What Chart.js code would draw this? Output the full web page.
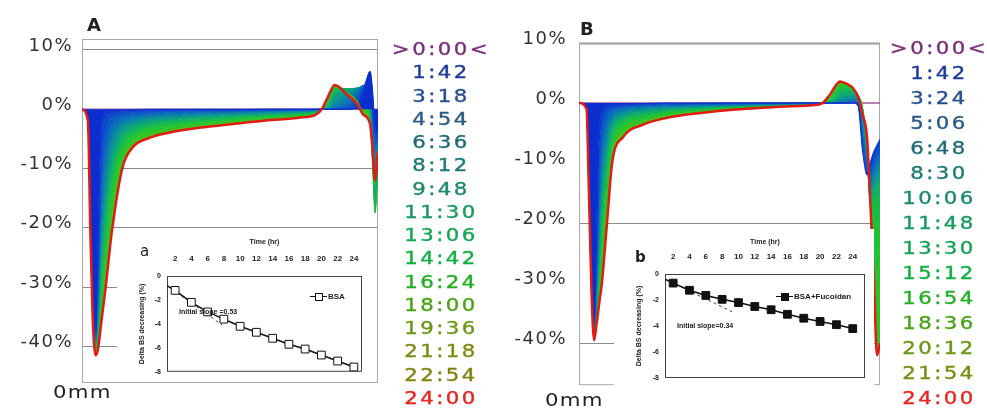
<!DOCTYPE html>
<html>
<head>
<meta charset="utf-8">
<title>Delta BS profiles</title>
<script src="https://cdn.jsdelivr.net/npm/chart.js@4.4.1/dist/chart.umd.min.js"></script>
<style>
  body { margin: 0; background: #fff; }
  #page { position: relative; width: 987px; height: 408px; overflow: hidden; font-family: "DejaVu Sans", sans-serif; }
  #page canvas { position: absolute; }
  .inset { background: #fff; }
  .time { position: absolute; width: 140px; text-align: center; font-size: 17px; line-height: 20px; letter-spacing: 2px; transform: scaleX(1.25); white-space: nowrap; -webkit-text-stroke: 0.35px currentColor; }
  .txt { position: absolute; white-space: nowrap; color: #222; }
  .small { position: absolute; white-space: nowrap; font-family: "Liberation Sans", Arial, sans-serif; font-weight: bold; font-size: 7px; color: #222; }
  .mk { display: inline-block; position: relative; width: 17px; height: 8px; vertical-align: middle; margin-right: 1px; }
  .mk:before { content: ''; position: absolute; left: 0; right: 0; top: 3.5px; border-top: 1px solid #111; }
  .mk i { position: absolute; left: 5px; top: 0; width: 6px; height: 6px; border: 1px solid #111; background: #fff; }
  .mk.fill i { background: #111; }
</style>
</head>
<body>
<div id="page">
  <canvas id="mainA" width="490" height="408" style="left:0;top:0"></canvas>
  <canvas id="mainB" width="497" height="408" style="left:490px;top:0"></canvas>
  <canvas id="insetA" class="inset" width="260" height="153" style="left:117px;top:229px"></canvas>
  <canvas id="insetB" class="inset" width="260" height="161" style="left:614px;top:229px"></canvas>

  <div class="txt" style="left:87px;top:14px;font-size:18px;font-weight:bold">A</div>
  <div class="txt" style="left:580px;top:18px;font-size:18px;font-weight:bold">B</div>
  <div class="txt" style="left:53px;top:382px;font-size:17px;letter-spacing:1px;transform:scaleX(1.25);transform-origin:left">0mm</div>
  <div class="txt" style="left:545px;top:390px;font-size:17px;letter-spacing:1px;transform:scaleX(1.25);transform-origin:left">0mm</div>

  <div class="txt" style="left:140px;top:242px;font-size:15px">a</div>
  <div class="txt" style="left:635px;top:248px;font-size:15px;font-weight:bold">b</div>
  <div class="small" style="left:179px;top:308px">Initial slope =0.53</div>
  <div class="small" style="left:677px;top:322px">Initial slope=0.34</div>
  <div class="small" style="left:310px;top:292px;font-size:8px"><span class="mk"><i></i></span>BSA</div>
  <div class="small" style="left:776px;top:292px;font-size:8px"><span class="mk fill"><i></i></span>BSA+Fucoidan</div>
</div>
<script>
// panel A: position along the strip (0..100) and Delta BS (%) for each scan time
const posA = [0, 2, 2.8, 3.6, 4.6, 5.4, 6.5, 8, 10, 13.6, 17, 23, 29, 40, 51, 62, 74, 79, 81, 83, 85.4, 89.5, 93, 95, 97.3, 98.2, 99, 100];
const timesA = ['>0:00<', '1:42', '3:18', '4:54', '6:36', '8:12', '9:48', '11:30', '13:06', '14:42', '16:24', '18:00', '19:36', '21:18', '22:54', '24:00'];
const curvesA = [
  [0, 0, 0, 0, 0, 0, 0, 0, 0, 0, 0, 0, 0, 0, 0, 0, 0, 0, 0, 0, 0, 0, 0, 0, 0, 0, 0, 0],
  [0, -2, -18, -33, -37, -22, -3, -0.6, -0.3, -0.2, -0.1, 0, 0, 0, 0, 0, 0, 0, 0, 0, 0, 0, 0.3, 2.5, 6.4, 3, -3, -4],
  [0, -2, -18, -33, -37.5, -25, -7, -1.5, -0.7, -0.4, -0.3, -0.2, -0.1, -0.1, -0.1, 0, 0, 0, 0, 0, 0, 0, 0.8, 3, 6.2, 2, -4, -4.5],
  [0, -2, -18, -33.5, -38, -27.5, -11, -3.5, -1.5, -0.8, -0.6, -0.4, -0.3, -0.2, -0.2, -0.1, -0.1, 0, 0, 0, 0, 0.2, 1.5, 3.5, 5.8, 0.5, -5, -5],
  [0, -2, -18.5, -33.5, -38.3, -29.5, -14.5, -6, -2.7, -1.3, -1, -0.7, -0.5, -0.4, -0.3, -0.2, -0.1, -0.1, 0, 0, 0, 0.6, 2.3, 3.8, 5.2, -1, -6, -5.5],
  [0, -2, -18.5, -33.5, -38.6, -31, -17.5, -8.5, -4, -2, -1.4, -1, -0.8, -0.6, -0.5, -0.3, -0.2, -0.1, 0, 0, 0.3, 1.2, 3, 4, 4.6, -2.5, -7, -6],
  [0, -2, -18.5, -34, -39, -32.5, -20, -11, -5.5, -2.7, -1.9, -1.3, -1.1, -0.8, -0.6, -0.4, -0.3, -0.2, 0, 0, 0.8, 2, 3.4, 4, 3.8, -4, -8, -6.5],
  [0, -2, -19, -34, -39.3, -34, -22.5, -13.5, -7, -3.4, -2.4, -1.7, -1.4, -1, -0.8, -0.6, -0.4, -0.3, 0, 0, 1.5, 2.6, 3.6, 3.8, 3, -5.5, -10, -7],
  [0, -2, -19, -34, -39.6, -35, -24.5, -16, -8.5, -4.1, -2.9, -2, -1.7, -1.3, -1, -0.7, -0.5, -0.3, 0, 0.2, 2.2, 3.1, 3.6, 3.4, 2, -7, -12, -8],
  [0, -2, -19, -34, -40, -36, -26.5, -18, -10, -4.9, -3.4, -2.4, -2, -1.5, -1.2, -0.9, -0.6, -0.4, 0, 0.4, 2.8, 3.4, 3.5, 2.8, 1, -8, -14, -9],
  [0, -2, -19, -34.5, -40.3, -37, -28.5, -20, -11.5, -5.6, -3.9, -2.8, -2.3, -1.8, -1.4, -1, -0.7, -0.5, 0, 0.7, 3.2, 3.5, 3.3, 2.2, 0, -9, -16, -10],
  [0, -2, -19.5, -34.5, -40.6, -38, -30.5, -22, -13, -6.4, -4.4, -3.1, -2.6, -2, -1.6, -1.2, -0.8, -0.6, 0, 1, 3.5, 3.5, 3, 1.5, -1, -10, -17.5, -11],
  [0, -2, -19.5, -34.5, -40.9, -38.8, -32, -24, -14.8, -7.2, -4.9, -3.5, -2.9, -2.3, -1.8, -1.4, -1, -0.6, 0, 1.3, 3.6, 3.4, 2.6, 0.8, -1.8, -9, -17, -10],
  [0, -2, -19.5, -35, -41.1, -39.5, -33.5, -26, -16.6, -8, -5.4, -3.9, -3.2, -2.5, -2, -1.5, -1.1, -0.7, 0, 1.6, 3.7, 3.2, 2.1, 0.2, -2.2, -8.5, -15, -9],
  [0, -2, -20, -35, -41.3, -40, -35, -28, -18.8, -9, -6, -4.3, -3.6, -2.8, -2.3, -1.7, -1.2, -0.8, 0, 1.8, 3.9, 2.9, 1.5, -0.4, -2.4, -8, -13, -8],
  [0, -2, -20, -35, -41.5, -40.5, -36, -30, -21, -10, -6.5, -4.8, -4, -3.1, -2.5, -1.9, -1.4, -0.9, 0, 2, 4.1, 2.5, 0.8, -0.9, -2.5, -7, -12, -7]
];

// panel B
const posB = [0, 2.5, 3.3, 4.2, 5, 5.8, 6.8, 7.6, 9.3, 11, 14.6, 21.3, 28, 34.6, 51, 67, 79, 81, 83.5, 86.7, 89, 91, 92.7, 94.2, 95.7, 96.7, 98, 99, 100];
const timesB = ['>0:00<', '1:42', '3:24', '5:06', '6:48', '8:30', '10:06', '11:48', '13:30', '15:12', '16:54', '18:36', '20:12', '21:54', '24:00'];
const curvesB = [
  [0, 0, 0, 0, 0, 0, 0, 0, 0, 0, 0, 0, 0, 0, 0, 0, 0, 0, 0, 0, 0, 0, 0, 0, 0, 0, 0, 0, 0],
  [0, -1, -14, -30, -36, -22, -4, -1.5, -0.5, -0.3, -0.2, -0.1, 0, 0, 0, 0, 0, 0, 0, 0, 0, 0, -0.5, -8, -12, -10, -8, -7, -6],
  [0, -1, -14, -30, -36.5, -25, -8, -3.5, -1.2, -0.7, -0.4, -0.2, -0.1, -0.1, 0, 0, 0, 0, 0, 0, 0, 0, -0.3, -7, -11.5, -11, -9, -8, -7],
  [0, -1, -14, -30.5, -36.8, -27.5, -12, -6, -2.2, -1.2, -0.7, -0.4, -0.3, -0.2, -0.1, 0, 0, 0, 0, 0, 0, 0.1, -0.1, -6, -11, -12, -10, -9, -8],
  [0, -1, -14.5, -30.5, -37, -29.5, -15, -8.5, -3.4, -1.8, -1, -0.6, -0.4, -0.3, -0.2, -0.1, 0, 0, 0, 0, 0.2, 0.3, 0.1, -5, -10.5, -13, -11, -10, -9],
  [0, -1, -14.5, -30.5, -37.3, -31, -18, -11, -4.8, -2.5, -1.4, -0.8, -0.6, -0.5, -0.3, -0.1, 0, 0, 0, 0.2, 0.5, 0.6, 0.3, -4, -10, -14, -12, -11, -10],
  [0, -1, -14.5, -31, -37.6, -32, -20.5, -13.5, -6.2, -3.2, -1.8, -1.1, -0.8, -0.6, -0.4, -0.2, -0.1, 0, 0, 0.5, 0.9, 1, 0.6, -3, -9.5, -15, -13, -12, -11],
  [0, -1, -14.5, -31, -37.9, -33, -22.5, -15.5, -7.6, -3.9, -2.2, -1.4, -1, -0.8, -0.5, -0.2, -0.1, 0, 0.1, 0.9, 1.3, 1.4, 0.9, -2, -9, -16, -14, -13, -12],
  [0, -1, -14.5, -31, -38.2, -34, -24.5, -17.5, -9, -4.7, -2.6, -1.7, -1.2, -0.9, -0.5, -0.3, -0.1, 0, 0.2, 1.4, 1.8, 1.7, 1.1, -1.3, -8.5, -16, -15, -14, -13],
  [0, -1, -15, -31, -38.5, -34.8, -26.3, -19.5, -10.6, -5.5, -3, -2, -1.4, -1.1, -0.6, -0.3, -0.1, 0, 0.4, 1.9, 2.2, 2, 1.3, -1, -8, -16, -17, -16, -15],
  [0, -1, -15, -31.5, -38.7, -35.5, -28, -21.5, -12.2, -6.3, -3.5, -2.3, -1.6, -1.3, -0.7, -0.4, -0.2, 0, 0.6, 2.4, 2.6, 2.2, 1.4, -0.8, -7.5, -16, -19, -20, -18],
  [0, -1, -15, -31.5, -38.9, -36, -29.5, -23.5, -14, -7.1, -4, -2.6, -1.8, -1.4, -0.8, -0.4, -0.2, 0, 0.8, 2.8, 2.9, 2.4, 1.4, -0.8, -7, -16, -21, -30, -20],
  [0, -1, -15, -31.5, -39.1, -36.4, -30.8, -25.5, -15.8, -8, -4.5, -2.9, -2.1, -1.6, -0.9, -0.5, -0.2, 0, 1, 3.1, 3.1, 2.5, 1.3, -1, -6.5, -16, -24, -40, -38],
  [0, -1, -15, -32, -39.3, -36.7, -32, -27.8, -17.8, -9, -5.1, -3.2, -2.3, -1.8, -1, -0.5, -0.3, 0, 1.2, 3.4, 3.2, 2.5, 1.2, -1.4, -6, -16, -27, -42, -40],
  [0, -1, -15, -32, -39.5, -37, -33, -30, -20, -10, -5.7, -3.6, -2.6, -2, -1.1, -0.6, -0.3, 0, 1.5, 3.6, 3.2, 2.5, 1, -2, -5.7, -15.6, -30, -42, -40]
];
const yTicksMain = [10, 0, -10, -20, -30, -40];

// insets: Delta BS decreasing (%) against time (hr)
const hourTicks = [2, 4, 6, 8, 10, 12, 14, 16, 18, 20, 22, 24];
const insetYTicks = [0, -2, -4, -6, -8];
const insetHours = [1, 2, 4, 6, 8, 10, 12, 14, 16, 18, 20, 22, 24];
const bsa = [-0.8, -1.2, -2.2, -3.0, -3.6, -4.2, -4.7, -5.2, -5.7, -6.1, -6.6, -7.1, -7.6];
const bsaFucoidan = [-0.4, -0.7, -1.25, -1.65, -1.95, -2.2, -2.5, -2.75, -3.1, -3.4, -3.65, -3.9, -4.2];
const slopeHoursA = [1, 7.8], slopeValsA = [-0.8, -4.1];
const slopeHoursB = [1, 9.2], slopeValsB = [-0.4, -2.9];

// colours
const labelColorsA = ['#7b2d7b', '#1f3c9c', '#27508e', '#2a5a85', '#1e6b78', '#1d7a74', '#1b8a6c', '#169a5e', '#13a552', '#10b040', '#22b022', '#4aa216', '#6a9614', '#7c8c12', '#808412', '#e8231e'];
const labelColorsB = ['#7b2d7b', '#1f3c9c', '#27508e', '#2a5a85', '#1e6b78', '#1d7a74', '#1b8a6c', '#169a5e', '#13a552', '#10b040', '#22b022', '#4aa216', '#6a9614', '#7c8c12', '#e8231e'];
const lineColorsA = ['#a0569a', '#0d2ecf', '#0c3bd0', '#0b4bcc', '#0a5cc4', '#096eb8', '#087fa8', '#088f96', '#099e82', '#0caa6c', '#10b556', '#16bd42', '#1ec232', '#28c426', '#36c21e', '#e31b12'];
const fillColorsA = ['#a0569a', '#0d2ecf', '#0c3bd0', '#0b4bcc', '#0a5cc4', '#096eb8', '#087fa8', '#088f96', '#099e82', '#0caa6c', '#10b556', '#16bd42', '#1ec232', '#28c426', '#36c21e', '#40be1a'];
const lineColorsB = ['#a0569a', '#0d2ecf', '#0b42cd', '#0a55c7', '#0968bc', '#087bad', '#088d9a', '#099d84', '#0caa6c', '#10b556', '#16bd42', '#1ec232', '#2ac425', '#38c21d', '#e31b12'];
const fillColorsB = ['#a0569a', '#0d2ecf', '#0b42cd', '#0a55c7', '#0968bc', '#087bad', '#088d9a', '#099d84', '#0caa6c', '#10b556', '#16bd42', '#1ec232', '#2ac425', '#38c21d', '#40be1a'];

const framePlugin = {
  id: 'frame',
  beforeDatasetsDraw(chart, args, opts) {
    const a = chart.chartArea, ctx = chart.ctx;
    ctx.save();
    ctx.strokeStyle = opts.color || '#aaa';
    ctx.lineWidth = 1;
    ctx.strokeRect(a.left + 0.5, a.top + 0.5, a.right - a.left - 1, a.bottom - a.top - 1);
    ctx.restore();
  }
};

// the percent labels of the main panels are drawn a little wider
const spacingPlugin = {
  id: 'spacing',
  beforeDraw(chart) { chart.ctx.letterSpacing = '1.5px'; },
  afterDraw(chart) { chart.ctx.letterSpacing = '0px'; }
};

function bandSets(pos, curves, lines, fills, clearFrom) {
  const last = curves.length - 1;
  return curves.map((row, k) => ({
    label: k,
    data: pos.map((x, i) => ({ x: x, y: row[i] })),
    borderColor: lines[k],
    backgroundColor: fills[k],
    borderWidth: k === 0 ? 1.5 : (k === last ? 2.5 : 1),
    fill: k === 0 ? false : '-1',
    order: k === 0 ? 2 : (k === last ? 0 : 1),
    pointRadius: 0,
    cubicInterpolationMode: 'monotone',
    // no fill between the zero line and the first scan past the end drop
    segment: k === 1 ? { backgroundColor: s => s.p0.parsed.x >= clearFrom ? 'rgba(0,0,0,0)' : undefined } : {}
  }));
}

function makeMain(id, pos, curves, lines, fills, yMin, yMax, gridShown, box) {
  new Chart(document.getElementById(id), {
    type: 'line',
    data: { datasets: bandSets(pos, curves, lines, fills, box.clearFrom) },
    options: {
      responsive: false,
      animation: false,
      layout: { padding: { left: 0, top: box.top, right: box.right, bottom: box.bottom } },
      plugins: { legend: { display: false }, tooltip: { enabled: false }, frame: { color: '#a8a8a8' } },
      scales: {
        x: { type: 'linear', min: 0, max: 100, display: false },
        y: {
          min: yMin, max: yMax,
          afterFit: s => { s.width = box.left; },
          afterBuildTicks: s => { s.ticks = yTicksMain.map(v => ({ value: v })); },
          border: { display: false },
          grid: {
            drawTicks: false,
            color: c => gridShown.includes(c.tick.value) ? (c.tick.value === 10 && box.thickTop ? '#c4c4c4' : '#8c8c8c') : 'rgba(0,0,0,0)',
            lineWidth: c => (c.tick.value === 10 && box.thickTop) ? 3 : 1
          },
          ticks: { padding: box.pad, labelOffset: -4, color: '#333', font: { family: 'DejaVu Sans', size: 18 }, callback: v => v + '%' }
        }
      }
    },
    plugins: [framePlugin, spacingPlugin]
  });
}

function makeInset(id, vals, slopeH, slopeV, markerFill, xMax, box) {
  const small = { family: 'Liberation Sans', size: 7, weight: 'bold' };
  new Chart(document.getElementById(id), {
    type: 'line',
    data: {
      datasets: [
        {
          data: insetHours.map((h, i) => ({ x: h, y: vals[i] })),
          borderColor: '#111', borderWidth: 1.5,
          pointStyle: 'rect', pointRadius: c => c.dataIndex === 0 ? 0 : 5.5,
          pointBackgroundColor: markerFill, pointBorderColor: '#111', pointBorderWidth: 1
        },
        {
          data: slopeH.map((h, i) => ({ x: h, y: slopeV[i] })),
          borderColor: '#444', borderWidth: 1, borderDash: [3, 3], pointRadius: 0
        }
      ]
    },
    options: {
      responsive: false,
      animation: false,
      layout: { padding: { left: 0, top: 0, right: box.right, bottom: box.bottom } },
      plugins: { legend: { display: false }, tooltip: { enabled: false }, frame: { color: '#444' } },
      scales: {
        x: {
          type: 'linear', position: 'top', min: 1, max: xMax,
          afterFit: s => { s.height = box.top; },
          afterBuildTicks: s => { s.ticks = hourTicks.map(v => ({ value: v })); },
          grid: { display: false, drawTicks: false }, border: { display: false },
          ticks: { padding: 12, autoSkip: false, maxRotation: 0, color: '#222', font: { family: 'Liberation Sans', size: 8, weight: 'bold' } },
          title: { display: true, text: 'Time (hr)', color: '#222', font: small, padding: { top: 9, bottom: 0 } }
        },
        y: {
          min: -8, max: 0,
          afterFit: s => { s.width = box.left; },
          afterBuildTicks: s => { s.ticks = insetYTicks.map(v => ({ value: v })); },
          grid: { display: false, drawTicks: false }, border: { display: false },
          ticks: { padding: 6, color: '#222', font: small },
          title: { display: true, text: 'Delta BS decreasing (%)', color: '#222', font: small, padding: { top: 21, bottom: 0 } }
        }
      }
    },
    plugins: [framePlugin]
  });
}

function placeTimes(times, colors, cx, y0, step) {
  const page = document.getElementById('page');
  times.forEach((t, i) => {
    const d = document.createElement('div');
    d.className = 'time';
    d.textContent = t;
    d.style.color = colors[i];
    d.style.left = (cx - 70) + 'px';
    d.style.top = (y0 + i * step - 10) + 'px';
    page.appendChild(d);
  });
}

makeMain('mainA', posA, curvesA, lineColorsA, fillColorsA, -46.2, 11.85, [10, 0, -10, -20, -30, -40],
  { left: 82, top: 39, right: 112, bottom: 25, pad: 9, thickTop: false, clearFrom: 200 });
makeMain('mainB', posB, curvesB, lineColorsB, fillColorsB, -47, 10, [10, -20, -40],
  { left: 89, top: 43, right: 107, bottom: 16, pad: 12, thickTop: true, clearFrom: 92 });
makeInset('insetA', bsa, slopeHoursA, slopeValsA, '#fff', 25, { left: 50, top: 47, right: 15, bottom: 7 });
makeInset('insetB', bsaFucoidan, slopeHoursB, slopeValsB, '#111', 25.5, { left: 51, top: 45, right: 9, bottom: 12 });
placeTimes(timesA, labelColorsA, 441, 49, 23.25);
placeTimes(timesB, labelColorsB, 939, 48, 25);
</script>
</body>
</html>
